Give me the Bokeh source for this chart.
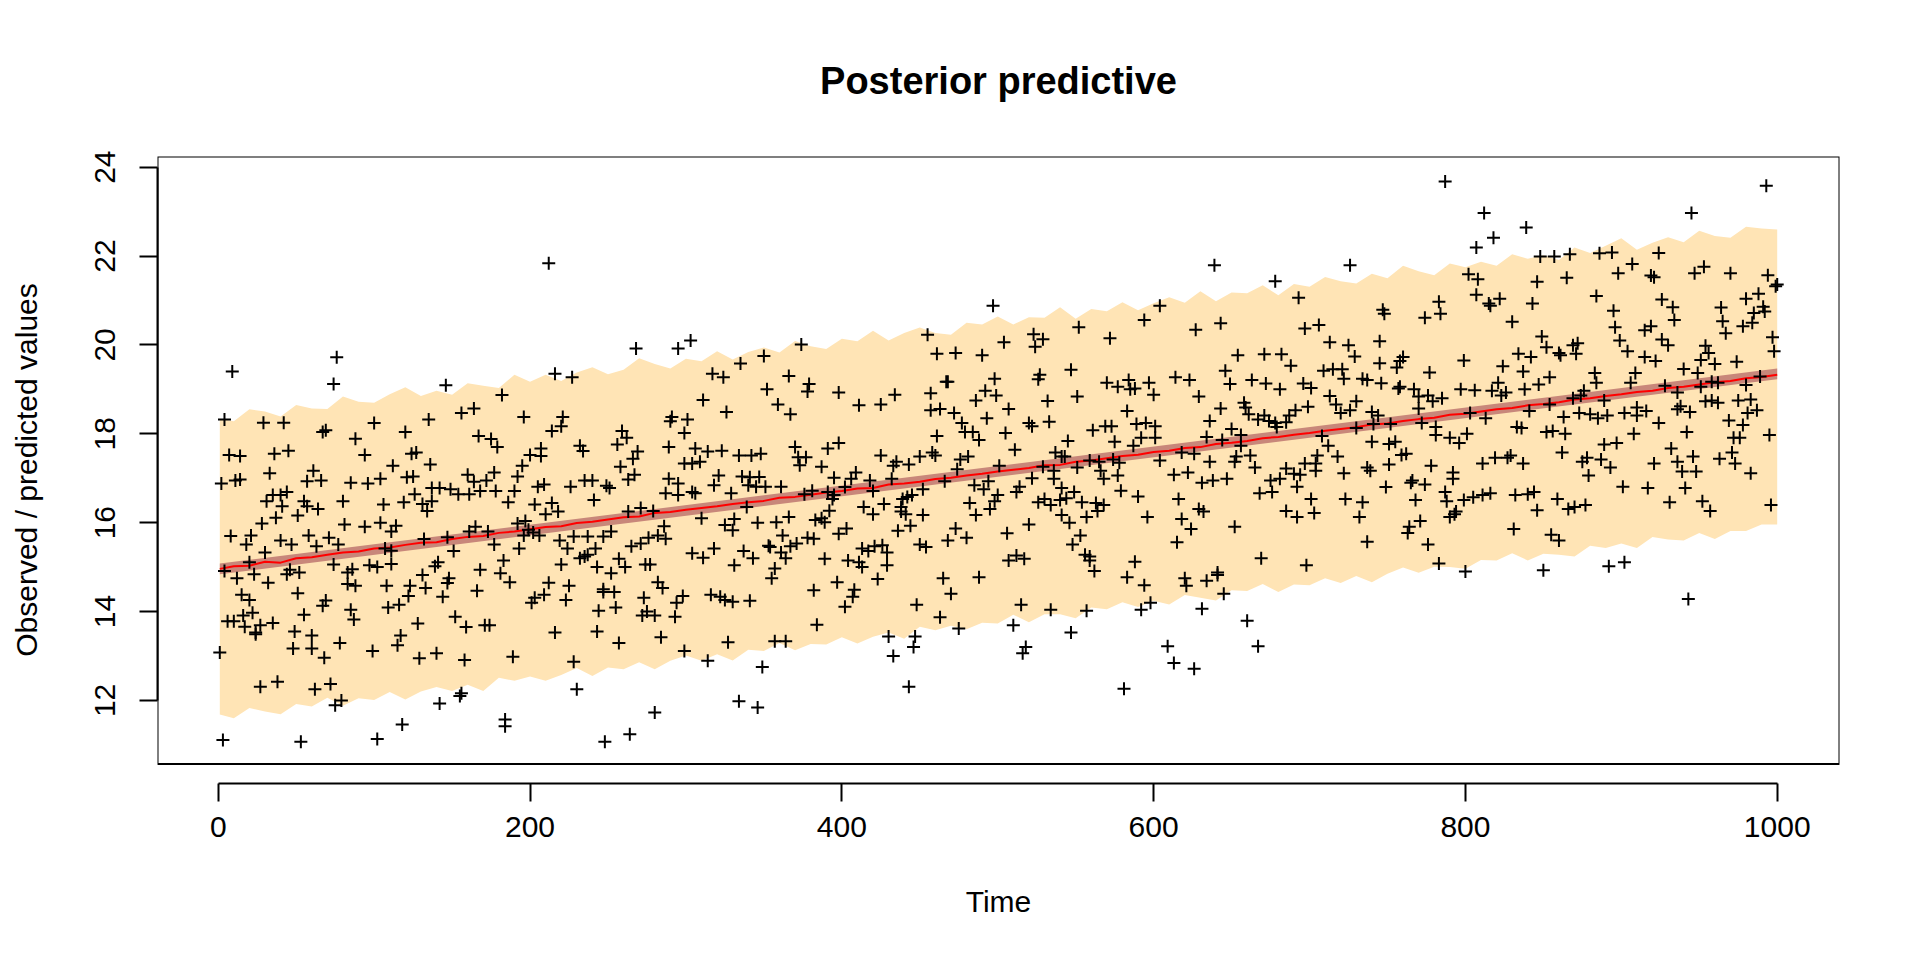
from bokeh.plotting import figure
from bokeh.models import Range1d, BoxAnnotation, FixedTicker
from bokeh.embed import file_html
from bokeh.resources import INLINE

# observed points (time, value)
obs = [
(9,19.40),(76,19.72),(74,19.12),(4,18.32),(29,18.25),(42,18.25),(67,18.04),(69,18.08),(88,17.89),(7,17.52),(14,17.50),(36,17.55),(45,17.62),(2,16.88),(11,16.95),(14,16.97),(33,17.11),(61,17.17),(57,16.93),(66,16.95),(85,16.90),(31,16.48),(35,16.62),(40,16.62),(44,16.69),(41,16.37),(55,16.48),(57,16.37),(64,16.31),(51,16.16),(80,16.48),(37,16.11),(28,15.98),(81,15.96),(8,15.70),(21,15.71),(18,15.51),(40,15.60),(47,15.51),(30,15.33),(58,15.71),(63,15.47),(71,15.66),(77,15.51),(20,15.11),(4,14.91),(12,14.75),(23,14.84),(32,14.65),(44,14.84),(46,14.94),(52,14.88),(74,15.06),(83,14.88),(86,14.95),(83,14.62),(88,14.58),(15,14.38),(20,14.26),(51,14.41),(69,14.25),(67,14.13),(85,14.04),(6,13.78),(10,13.78),(16,13.91),(22,13.97),(17,13.66),(27,13.69),(24,13.53),(24,13.49),(35,13.74),(55,13.93),(87,13.82),(49,13.55),(60,13.46),(1,13.08),(48,13.17),(60,13.17),(78,13.29),(68,12.96),(27,12.31),(38,12.42),(62,12.25),(72,12.37),(75,11.89),(79,12.00),(3,11.11),(53,11.07),
(146,19.09),(182,18.87),(164,18.57),(156,18.47),(135,18.32),(100,18.24),(120,18.04),(167,17.95),(175,17.88),(179,17.70),(94,17.52),(124,17.55),(127,17.58),(112,17.28),(136,17.31),(96,16.88),(104,16.99),(121,17.02),(125,17.04),(160,17.08),(164,16.92),(177,17.13),(172,16.95),(192,17.04),(137,16.78),(142,16.78),(149,16.75),(154,16.64),(161,16.64),(168,16.71),(178,16.71),(190,16.71),(106,16.41),(119,16.46),(126,16.64),(131,16.42),(134,16.26),(137,16.48),(186,16.46),(94,15.91),(104,16.00),(111,15.80),(114,15.93),(132,15.63),(147,15.67),(161,15.80),(165,15.91),(173,15.80),(192,15.98),(111,15.37),(107,15.42),(97,15.04),(102,15.00),(111,15.07),(151,15.36),(177,15.51),(193,15.42),(141,15.11),(139,15.02),(183,15.15),(168,14.94),(181,14.86),(131,14.82),(148,14.75),(147,14.64),(187,14.66),(108,14.58),(123,14.58),(133,14.53),(166,14.47),(122,14.35),(144,14.33),(109,14.09),(116,14.15),(128,13.73),(152,13.88),(159,13.65),(171,13.69),(174,13.69),(117,13.46),(115,13.24),(99,13.11),(129,12.95),(140,13.06),(158,12.91),(189,12.98),(155,12.10),(156,12.16),(142,11.93),(118,11.46),(102,11.13),(184,11.57),(184,11.42),
(212,21.84),(268,19.92),(295,19.92),(216,19.35),(227,19.27),(196,18.38),(221,18.38),(220,18.17),(214,18.06),(291,18.38),(290,18.28),(259,18.06),(262,17.91),(256,17.76),(289,17.70),(232,17.73),(234,17.61),(200,17.52),(207,17.67),(207,17.50),(195,17.28),(258,17.26),(269,17.60),(266,17.44),(267,17.08),(263,16.97),(289,16.99),(295,16.88),(205,16.81),(209,16.86),(226,16.81),(235,16.95),(240,16.95),(249,16.83),(251,16.78),(287,16.66),(295,16.62),(203,16.41),(214,16.44),(210,16.19),(218,16.25),(241,16.51),(263,16.25),(271,16.33),(279,16.26),(197,16.04),(199,15.84),(202,15.78),(196,15.71),(206,15.71),(219,15.60),(228,15.69),(237,15.69),(247,15.69),(252,15.80),(224,15.42),(242,15.42),(265,15.47),(271,15.53),(276,15.66),(282,15.71),(287,15.64),(286,15.92),(232,15.20),(235,15.24),(237,15.28),(257,15.19),(220,15.06),(243,15.00),(261,15.00),(252,14.86),(274,15.06),(277,15.06),(212,14.65),(225,14.58),(282,14.66),(285,14.53),(209,14.38),(203,14.31),(201,14.20),(223,14.26),(247,14.50),(254,14.44),(247,14.44),(273,14.31),(294,14.20),(255,14.09),(244,14.02),(275,14.00),(280,13.91),(272,13.91),(293,13.88),(216,13.53),(243,13.55),(257,13.29),(284,13.42),(228,12.87),(230,12.25),(280,11.73),(264,11.24),(248,11.07),
(303,20.10),(374,20.01),(350,19.75),(335,19.58),(317,19.35),(324,19.27),(366,19.30),(379,19.12),(378,18.95),(352,19.00),(398,18.93),(311,18.76),(359,18.66),(326,18.49),(367,18.44),(301,18.32),(299,18.02),(306,17.67),(314,17.60),(323,17.62),(334,17.51),(342,17.51),(348,17.55),(370,17.70),(372,17.47),(377,17.47),(373,17.29),(391,17.67),(398,17.79),(387,17.26),(299,17.33),(304,17.33),(309,17.37),(321,17.06),(318,16.84),(336,17.04),(341,17.02),(340,16.84),(347,17.03),(345,16.81),(351,16.81),(361,16.81),(395,17.01),(304,16.69),(306,16.66),(329,16.66),(376,16.64),(381,16.72),(391,16.69),(395,16.62),(394,16.53),(339,16.35),(392,16.27),(310,16.10),(325,15.95),(331,16.08),(330,15.83),(346,16.00),(358,16.01),(366,16.13),(383,16.06),(387,16.10),(389,16.01),(362,15.71),(353,15.48),(354,15.45),(361,15.33),(364,15.20),(367,15.47),(371,15.53),(378,15.66),(382,15.64),(398,15.75),(304,15.31),(311,15.21),(318,15.42),(337,15.36),(343,15.20),(331,15.04),(357,14.97),(389,15.19),(355,14.75),(397,14.66),(382,14.48),(298,14.35),(316,14.38),(322,14.33),(325,14.26),(330,14.22),(341,14.24),(384,13.70),(327,13.31),(357,13.33),(364,13.33),(299,13.11),(314,12.89),(349,12.75),(334,11.98),(346,11.84),
(497,20.88),(455,20.23),(461,19.80),(473,19.82),(490,19.77),(498,19.24),(467,19.17),(468,19.17),(492,18.97),(499,18.86),(486,18.75),(411,18.64),(425,18.66),(434,18.88),(457,18.91),(457,18.53),(463,18.56),(472,18.47),(493,18.35),(477,18.24),(479,18.04),(484,18.04),(488,17.86),(461,17.95),(425,17.51),(435,17.37),(433,17.28),(443,17.31),(450,17.49),(458,17.58),(460,17.51),(481,17.49),(476,17.42),(474,17.20),(501,17.28),(409,17.13),(406,16.99),(418,16.95),(432,16.99),(402,16.80),(420,16.71),(452,16.75),(466,16.93),(485,16.84),(491,16.75),(494,16.93),(500,16.62),(498,16.48),(414,16.35),(420,16.19),(427,16.42),(439,16.53),(442,16.58),(445,16.62),(438,16.35),(438,16.25),(441,16.19),(452,16.17),(482,16.44),(486,16.17),(495,16.31),(403,15.87),(436,15.82),(444,15.93),(473,15.87),(468,15.60),(480,15.66),(450,15.51),(454,15.45),(413,15.42),(417,15.36),(421,15.47),(426,15.49),(429,15.33),(404,15.15),(411,15.11),(413,15.00),(429,15.04),(423,14.73),(465,14.75),(488,14.77),(408,14.49),(407,14.33),(402,14.11),(448,14.15),(470,14.40),(463,13.87),(475,13.62),(430,13.44),(447,13.44),(446,13.20),(433,13.00),(443,12.31),
(604,20.88),(594,20.56),(552,20.40),(572,20.15),(504,20.06),(523,20.24),(529,20.13),(524,19.96),(547,19.44),(526,19.23),(527,19.33),(551,18.84),(570,19.15),(577,19.06),(584,19.21),(585,19.00),(588,19.02),(597,19.15),(600,18.88),(532,18.74),(507,18.56),(583,18.51),(520,18.24),(522,18.17),(533,18.27),(505,18.02),(561,18.08),(569,18.17),(573,18.17),(589,18.22),(595,18.24),(601,18.17),(545,17.84),(575,17.82),(592,17.91),(587,17.73),(601,17.91),(511,17.64),(537,17.58),(541,17.49),(543,17.49),(529,17.26),(536,17.17),(551,17.24),(559,17.40),(565,17.37),(574,17.42),(578,17.35),(604,17.40),(566,17.17),(568,16.99),(577,17.06),(522,17.00),(536,16.99),(514,16.81),(512,16.69),(541,16.78),(549,16.69),(579,16.72),(590,16.59),(526,16.46),(534,16.40),(530,16.53),(540,16.51),(544,16.55),(554,16.46),(563,16.44),(568,16.40),(564,16.26),(541,16.17),(546,16.00),(557,16.13),(596,16.13),(520,15.96),(506,15.76),(553,15.71),(548,15.51),(507,15.15),(512,15.26),(517,15.19),(556,15.28),(559,15.15),(559,15.24),(562,14.91),(588,15.12),(583,14.77),(594,14.59),(515,14.15),(534,14.04),(557,14.02),(598,14.20),(592,14.04),(510,13.69),(547,13.53),(518,13.20),(516,13.06),(581,12.26),
(639,21.79),(678,21.43),(693,21.06),(627,20.34),(643,20.49),(697,20.37),(706,20.45),(654,19.77),(671,19.79),(682,19.79),(688,19.53),(614,19.27),(623,19.21),(646,19.42),(649,19.12),(663,19.21),(672,19.13),(681,19.00),(696,19.13),(701,19.03),(629,18.84),(658,18.70),(659,18.59),(643,18.57),(661,18.44),(699,18.61),(691,18.53),(687,18.41),(636,18.29),(667,18.32),(671,18.41),(674,18.29),(678,18.24),(685,18.26),(650,18.11),(679,18.15),(634,17.93),(644,17.86),(656,17.97),(656,17.73),(618,17.58),(626,17.55),(636,17.37),(653,17.49),(652,17.37),(662,17.51),(665,17.24),(685,17.22),(697,17.33),(705,17.51),(704,17.33),(613,17.08),(622,17.13),(631,16.90),(638,16.95),(647,16.99),(675,16.95),(681,16.99),(690,17.10),(694,17.08),(704,17.17),(692,16.81),(668,16.66),(676,16.69),(616,16.53),(701,16.53),(629,16.31),(632,16.25),(685,16.26),(692,16.13),(703,16.22),(618,16.08),(624,15.86),(652,15.91),(615,15.56),(669,15.20),(698,15.04),(620,14.75),(621,14.58),(634,14.69),(641,14.88),(641,14.82),(645,14.40),(631,14.06),(660,13.79),(609,13.22),(667,13.22),(613,12.84),(626,12.71),
(787,23.68),(807,22.19),(726,21.79),(802,21.59),(808,21.48),(807,21.13),(783,20.97),(747,20.79),(748,20.70),(784,20.70),(774,20.61),(713,20.06),(725,19.99),(745,20.08),(729,19.74),(760,19.73),(758,19.64),(799,19.65),(745,19.59),(756,19.49),(709,19.42),(715,19.45),(721,19.45),(722,19.24),(734,19.24),(737,19.21),(746,19.14),(777,19.38),(757,19.02),(758,19.06),(767,19.00),(713,18.85),(770,18.84),(776,18.86),(785,18.80),(779,18.73),(797,19.00),(806,18.98),(717,18.66),(730,18.73),(726,18.53),(720,18.47),(770,18.57),(740,18.49),(744,18.41),(803,18.47),(781,18.15),(730,18.13),(741,18.22),(752,18.22),(772,18.24),(781,17.97),(790,17.91),(801,18.00),(708,17.95),(712,17.73),(740,17.82),(751,17.77),(755,17.82),(796,17.79),(718,17.49),(759,17.52),(762,17.55),(737,17.24),(739,17.17),(722,17.11),(751,17.31),(778,17.28),(766,16.95),(765,16.90),(774,16.86),(792,17.13),(792,16.99),(749,16.80),(787,16.69),(723,16.53),(734,16.46),(768,16.51),(788,16.48),(799,16.51),(805,16.57),(732,16.13),(771,16.04),(790,16.13),(794,16.25),(793,16.19),(764,15.91),(763,15.77),(737,15.57),(776,15.51),(783,15.08),(800,14.90),
(812,22.97),(839,22.64),(818,22.41),(848,21.99),(857,21.99),(867,22.04),(886,22.06),(894,22.08),(907,21.82),(898,21.61),(846,21.42),(865,21.51),(884,21.10),(815,20.93),(816,20.88),(822,21.04),(843,20.93),(895,20.77),(830,20.52),(896,20.40),(899,20.10),(849,20.19),(852,19.95),(904,19.86),(834,19.80),(842,19.73),(860,19.82),(861,19.77),(869,19.99),(872,20.04),(871,19.80),(824,19.52),(837,19.40),(854,19.27),(883,19.37),(884,19.15),(906,19.15),(909,19.37),(821,19.15),(817,18.97),(826,18.93),(823,18.86),(838,19.00),(847,19.11),(876,18.97),(874,18.86),(869,18.80),(889,18.75),(813,18.35),(841,18.51),(854,18.66),(863,18.38),(873,18.47),(880,18.44),(885,18.35),(891,18.41),(902,18.47),(910,18.41),(910,18.59),(833,18.15),(836,18.13),(852,18.04),(856,18.06),(864,18.00),(908,18.00),(862,17.58),(889,17.76),(897,17.79),(811,17.33),(819,17.46),(829,17.51),(827,17.46),(837,17.33),(875,17.37),(878,17.46),(879,17.06),(887,17.42),(893,17.24),(811,16.62),(816,16.66),(832,16.62),(840,16.64),(844,16.69),(846,16.28),(859,16.53),(866,16.31),(870,16.35),(877,16.40),(901,16.81),(831,15.86),(855,15.73),(860,15.60),(850,14.93),(892,15.02),(902,15.11),
(993,23.58),(945,22.97),(924,22.07),(919,21.56),(921,21.52),(947,21.61),(953,21.76),(970,21.61),(994,21.57),(999,21.32),(1000,21.36),(926,21.02),(933,20.85),(934,20.56),(964,20.84),(980,21.04),(988,21.15),(991,20.86),(985,20.72),(992,20.75),(984,20.50),(965,20.53),(967,20.26),(978,20.42),(915,20.33),(919,20.42),(926,20.12),(930,19.99),(954,19.98),(956,19.82),(997,20.17),(998,19.86),(915,19.73),(922,19.64),(951,19.66),(960,19.57),(974,19.62),(940,19.46),(949,19.37),(928,19.08),(936,18.93),(951,19.06),(958,19.17),(962,19.15),(980,19.10),(989,19.29),(954,18.73),(958,18.75),(962,18.70),(975,18.75),(983,18.77),(938,18.62),(936,18.55),(944,18.49),(916,18.51),(987,18.53),(981,18.47),(924,18.24),(969,18.30),(978,18.20),(942,18.04),(972,17.91),(976,17.91),(995,17.97),(932,17.67),(936,17.37),(946,17.49),(963,17.44),(971,17.58),(973,17.33),(921,17.33),(939,17.15),(948,17.15),(983,17.11),(917,16.78),(941,16.78),(931,16.46),(952,16.48),(957,16.26),(996,16.40),(943,14.28),
]
obs_time = [a for a, b in obs]
obs_value = [b for a, b in obs]

# predictive band edges, read every 10 time units
band_time = [1] + list(range(10, 1001, 10))
band_upper = [18.34, 18.28, 18.55, 18.50, 18.39, 18.65, 18.57, 18.56, 18.84, 18.72,
              18.70, 18.89, 19.05, 18.85, 18.97, 18.88, 19.14, 19.08, 19.03, 19.33,
              19.17, 19.33, 19.19, 19.38, 19.50, 19.34, 19.44, 19.70, 19.57, 19.47,
              19.69, 19.63, 19.86, 19.67, 19.84, 19.94, 19.83, 20.09, 19.97, 19.91,
              20.14, 20.08, 20.32, 20.10, 20.27, 20.39, 20.27, 20.23, 20.50, 20.46,
              20.64, 20.46, 20.62, 20.61, 20.85, 20.59, 20.81, 20.76, 20.96, 20.78,
              20.94, 21.07, 20.95, 21.21, 20.98, 21.18, 21.16, 21.34, 21.12, 21.37,
              21.31, 21.53, 21.43, 21.38, 21.60, 21.50, 21.78, 21.66, 21.57, 21.83,
              21.75, 21.87, 21.78, 22.04, 21.94, 22.02, 21.91, 22.19, 22.07, 22.23,
              22.40, 22.14, 22.30, 22.42, 22.31, 22.57, 22.45, 22.41, 22.66, 22.62,
              22.60]
band_lower = [11.68, 11.60, 11.83, 11.75, 11.69, 11.92, 11.86, 12.06, 11.88, 12.05,
              12.01, 12.19, 12.02, 12.20, 12.30, 12.21, 12.35, 12.21, 12.51, 12.44,
              12.54, 12.44, 12.57, 12.73, 12.55, 12.74, 12.70, 12.86, 12.70, 12.89,
              13.01, 12.89, 13.04, 12.90, 13.14, 13.11, 13.29, 13.13, 13.27, 13.26,
              13.42, 13.28, 13.43, 13.53, 13.39, 13.66, 13.58, 13.68, 13.60, 13.75,
              13.73, 13.93, 13.76, 13.94, 13.94, 13.85, 14.09, 14.05, 14.21, 14.10,
              14.24, 14.16, 14.37, 14.31, 14.25, 14.48, 14.46, 14.62, 14.44, 14.61,
              14.59, 14.75, 14.64, 14.80, 14.66, 14.85, 14.99, 14.87, 15.01, 15.00,
              14.96, 15.16, 15.15, 15.31, 15.15, 15.30, 15.28, 15.24, 15.48, 15.43,
              15.53, 15.43, 15.68, 15.62, 15.60, 15.77, 15.63, 15.81, 15.81, 15.96,
              15.96]
# posterior mean line
mean_value = [14.96, 15.02, 15.03, 15.12, 15.10, 15.20, 15.22, 15.28, 15.33, 15.35,
              15.42, 15.44, 15.50, 15.55, 15.56, 15.63, 15.68, 15.70, 15.77, 15.80,
              15.85, 15.90, 15.92, 15.99, 16.02, 16.07, 16.12, 16.14, 16.22, 16.24,
              16.29, 16.33, 16.37, 16.42, 16.46, 16.49, 16.56, 16.58, 16.63, 16.68,
              16.71, 16.77, 16.78, 16.86, 16.88, 16.92, 16.98, 17.01, 17.06, 17.10,
              17.15, 17.19, 17.23, 17.29, 17.30, 17.37, 17.40, 17.45, 17.50, 17.53,
              17.59, 17.62, 17.68, 17.70, 17.77, 17.80, 17.84, 17.90, 17.93, 17.98,
              18.02, 18.07, 18.11, 18.15, 18.21, 18.23, 18.29, 18.33, 18.36, 18.43,
              18.45, 18.50, 18.55, 18.58, 18.64, 18.67, 18.71, 18.77, 18.80, 18.85,
              18.89, 18.94, 18.97, 19.03, 19.06, 19.11, 19.16, 19.19, 19.25, 19.28,
              19.33]
# credible band of the mean
cb_time = [1, 1000]
cb_lower = [14.84, 19.23]
cb_upper = [15.08, 19.47]

x_ticks = [0, 200, 400, 600, 800, 1000]
y_ticks = [12, 14, 16, 18, 20, 22, 24]

FONT = "Liberation Sans"

p = figure(width=1904, height=944, output_backend="svg", toolbar_location=None,
           x_range=Range1d(-38.96, 1039.96), y_range=Range1d(10.13, 24.24),
           min_border_left=157, min_border_right=65, min_border_top=156,
           min_border_bottom=161)
p.xgrid.visible = False
p.ygrid.visible = False
p.outline_line_color = None
p.background_fill_color = "white"
p.border_fill_color = "white"

p.varea(x=band_time, y1=band_lower, y2=band_upper, fill_color="#FFE4B5")
p.varea(x=cb_time, y1=cb_lower, y2=cb_upper, fill_color="#C8877A")
p.line(band_time, mean_value, line_color="red", line_width=2)
p.scatter(obs_time, obs_value, marker="cross", size=13, line_color="black", line_width=2)

p.add_layout(BoxAnnotation(left=-38.96, right=1039.96, bottom=10.57, top=24.24,
                           fill_alpha=0, line_color="black", line_alpha=1.0,
                           line_width=2))

p.title.text = "Posterior predictive"
p.title.align = "center"
p.title.text_font = FONT
p.title.text_font_size = "38px"
p.title.text_font_style = "bold"
p.title.text_color = "black"
p.title.standoff = 110

for ax in (p.xaxis[0], p.yaxis[0]):
    ax.axis_line_width = 2
    ax.major_tick_line_width = 2
    ax.major_tick_in = 0
    ax.major_tick_out = 18
    ax.minor_tick_line_color = None
    ax.major_label_text_font = FONT
    ax.major_label_text_font_size = "30px"
    ax.major_label_text_color = "black"
    ax.axis_label_text_font = FONT
    ax.axis_label_text_font_size = "30px"
    ax.axis_label_text_font_style = "normal"
    ax.axis_label_text_color = "black"

p.xaxis.ticker = FixedTicker(ticks=x_ticks)
p.xaxis.bounds = (0, 1000)
p.xaxis.major_label_standoff = 15
p.xaxis.axis_label = "Time"
p.xaxis.axis_label_standoff = 45

p.yaxis.ticker = FixedTicker(ticks=y_ticks)
p.yaxis.bounds = (12, 24)
p.yaxis.major_label_orientation = "vertical"
p.yaxis.major_label_standoff = 24
p.yaxis.axis_label = "Observed / predicted values"
p.yaxis.axis_label_standoff = 50

open("out.html", "w").write(file_html(p, INLINE))
